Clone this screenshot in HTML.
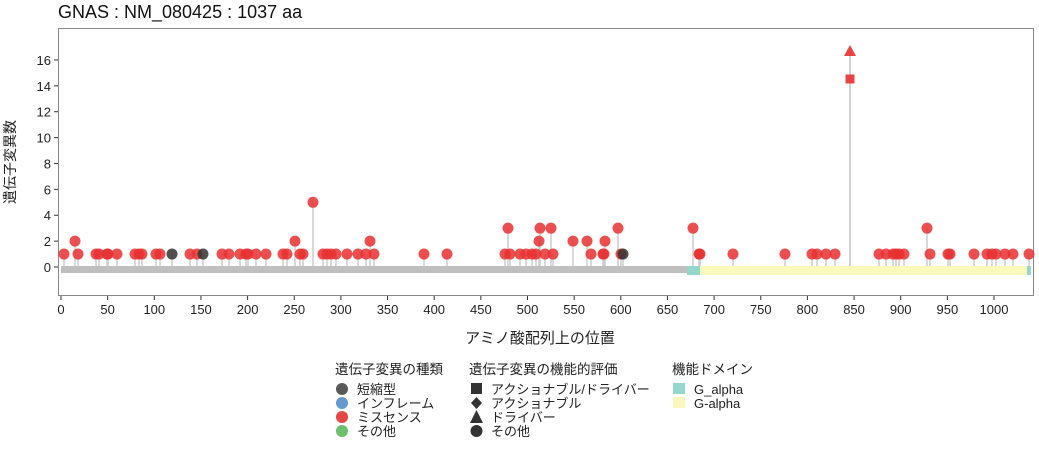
<!DOCTYPE html>
<html><head><meta charset="utf-8"><style>
body{margin:0;background:#fff;}
svg{display:block;font-family:"Liberation Sans","Noto Sans CJK JP",sans-serif;}
</style></head><body>
<svg id="s" width="1039" height="450" xmlns="http://www.w3.org/2000/svg">
<text x="58" y="18" font-size="18" fill="#111">GNAS : NM_080425 : 1037 aa</text>
<rect x="58.5" y="28.5" width="975" height="267" fill="#fff" stroke="#888" stroke-width="1"/>
<g id="g"></g>
<text x="540" y="343" font-size="15" text-anchor="middle" fill="#222">アミノ酸配列上の位置</text>
<text transform="translate(15,162) rotate(-90)" font-size="14" text-anchor="middle" fill="#222">遺伝子変異数</text>
<g font-size="13.5" fill="#222">
<text x="335" y="374">遺伝子変異の種類</text>
<circle cx="342" cy="389" r="6" fill="#595959"/><text x="357" y="394" font-size="13">短縮型</text>
<circle cx="342" cy="403" r="6" fill="#6699cc"/><text x="357" y="408" font-size="13">インフレーム</text>
<circle cx="342" cy="417" r="6" fill="#e84545"/><text x="357" y="422" font-size="13">ミスセンス</text>
<circle cx="342" cy="431" r="6" fill="#6cbf6c"/><text x="357" y="436" font-size="13">その他</text>
<text x="469" y="374">遺伝子変異の機能的評価</text>
<rect x="471" y="383" width="11" height="11" fill="#333"/><text x="491" y="394" font-size="13">アクショナブル/ドライバー</text>
<polygon points="476.5,397 482,403 476.5,409 471,403" fill="#333"/><text x="491" y="408" font-size="13">アクショナブル</text>
<polygon points="476.5,410 483,423 470,423" fill="#333"/><text x="491" y="422" font-size="13">ドライバー</text>
<circle cx="476.5" cy="431" r="6" fill="#333"/><text x="491" y="436" font-size="13">その他</text>
<text x="672" y="374">機能ドメイン</text>
<rect x="673" y="383" width="12" height="11" fill="#94d8cb"/><text x="694" y="394" font-size="13">G_alpha</text>
<rect x="673" y="397" width="12" height="11" fill="#f9f9bd"/><text x="694" y="408" font-size="13">G-alpha</text>
</g>
</svg>
<script>
var g=document.getElementById('g'),h='';
function X(v){return 61+v*0.933;}
function Y(v){return 267-v*12.94;}
for(var v=0;v<=16;v+=2){var y=Y(v);h+='<line x1="54" x2="58" y1="'+y+'" y2="'+y+'" stroke="#333"/><text x="51" y="'+(y+5)+'" font-size="13" text-anchor="end" fill="#222">'+v+'</text>';}
for(var v=0;v<=1000;v+=50){var x=X(v);h+='<line x1="'+x+'" x2="'+x+'" y1="296" y2="300" stroke="#333"/><text x="'+x+'" y="314" font-size="13" text-anchor="middle" fill="#222">'+v+'</text>';}
h+='<rect x="61" y="266" width="969" height="7" fill="#bfbfbf"/>';
h+='<rect x="687" y="266" width="13" height="9" fill="#94d8cb"/><rect x="700" y="266" width="327" height="9" fill="#f9f9bd"/><rect x="1027" y="266" width="4" height="9" fill="#94d8cb"/>';
var one=[64,78,96,99,107,108,117,135,139,142,156,160,190,197,222,229,240,246,248,256,266,283,287,300,303,323,327,331,336,347,358,366,374,424,447,505,510,520,526,532,536,545,553,591,603,604,621,699,700,733,785,812,817,826,835,879,886,893,896,899,904,930,948,950,974,987,992,996,1005,1013,1029];
var dark=[172,203,623];
var two=[75,295,370,539,573,587,605];
var three=[508,540,551,618,693,927];
var pts=[];
one.forEach(function(x){pts.push([x,1,'#e83030']);});
dark.forEach(function(x){pts.push([x,1,'#333']);});
two.forEach(function(x){pts.push([x,2,'#e83030']);});
three.forEach(function(x){pts.push([x,3,'#e83030']);});
pts.push([313,5,'#e83030']);
var st='',ci='';
pts.forEach(function(p){var y=Y(p[1]);st+='<line x1="'+p[0]+'" x2="'+p[0]+'" y1="'+y+'" y2="266" stroke="#ccc" stroke-width="1.5"/>';ci+='<circle cx="'+p[0]+'" cy="'+y+'" r="5.5" fill="'+p[2]+'" fill-opacity="0.85"/>';});
st+='<line x1="850" x2="850" y1="52" y2="266" stroke="#c4c4c4" stroke-width="1.5"/>';
ci+='<rect x="845.5" y="74.5" width="9" height="9" fill="#e83030" fill-opacity="0.9"/><polygon points="850,45 856,56 844,56" fill="#e83030" fill-opacity="0.9"/>';
h+=st+ci;
g.innerHTML=h;
</script>
</body></html>
